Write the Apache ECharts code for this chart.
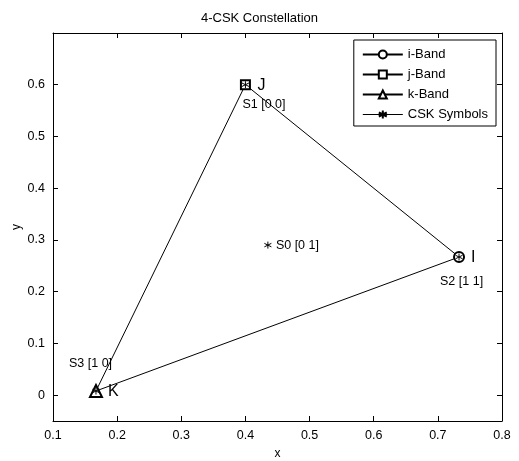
<!DOCTYPE html>
<html><head><meta charset="utf-8">
<script src="https://cdn.jsdelivr.net/npm/echarts@6/dist/echarts.min.js"></script>
<style>html,body{margin:0;padding:0;background:#fff}#c{width:519px;height:461px}</style>
</head><body><div id="c"></div>
<script>
const xTicks = [0.1, 0.2, 0.3, 0.4, 0.5, 0.6, 0.7, 0.8];
const yTicks = [0, 0.1, 0.2, 0.3, 0.4, 0.5, 0.6];
const bandNames = ['i-Band', 'j-Band', 'k-Band'];
const bandLetters = ['I', 'J', 'K'];
const bandX = [0.733, 0.4, 0.167];
const bandY = [0.267, 0.6, 0.008];
const cskNames = ['S0 [0 1]', 'S1 [0 0]', 'S2 [1 1]', 'S3 [1 0]'];
const cskX = [0.435, 0.4, 0.733, 0.167];
const cskY = [0.29, 0.6, 0.267, 0.008];
const triangleOrder = [1, 0, 2, 1];

const FONT = 'Liberation Sans, Arial, sans-serif';
const bandSymbols = ['emptyCircle', 'emptyRect', 'emptyTriangle'];
const bandSizes = [10, 9, 12];
const star = 'path://M0,-5L0,5M-4.33,-2.5L4.33,2.5M-4.33,2.5L4.33,-2.5';
const cskOffsets = [[8, 0], [-3, 20], [-19, 25], [-27, -27]];

const series = [];
series.push({
  type: 'line', name: 'triangle', silent: true, symbol: 'none',
  data: triangleOrder.map(i => [bandX[i], bandY[i]]),
  lineStyle: {color: '#000', width: 1}, z: 2
});
bandNames.forEach((n, i) => {
  series.push({
    type: 'line', name: n, symbol: bandSymbols[i], symbolSize: bandSizes[i],
    data: [[bandX[i], bandY[i]]],
    itemStyle: {color: '#000', borderColor: '#000', borderWidth: 2},
    lineStyle: {color: '#000', width: 2},
    label: {show: true, formatter: bandLetters[i], position: 'inside', align: 'left',
      verticalAlign: 'middle', offset: [12, 1], color: '#000', fontSize: 16, fontFamily: FONT},
    z: 3
  });
});
series.push({
  type: 'line', name: 'CSK Symbols', symbol: star, symbolSize: 7,
  data: cskX.map((x, i) => ({
    value: [x, cskY[i]],
    label: {show: true, formatter: cskNames[i], position: 'inside', align: 'left',
      verticalAlign: 'middle', offset: cskOffsets[i], color: '#000', fontSize: 12.5, fontFamily: FONT}
  })),
  itemStyle: {color: '#000', borderColor: '#000', borderWidth: 1},
  lineStyle: {width: 0, opacity: 0},
  z: 4
});

const grid = {left: 53, right: 17, top: 33, bottom: 40, containLabel: false, outerBoundsMode: 'none'};
const chart = echarts.init(document.getElementById('c'), null, {renderer: 'canvas'});
chart.setOption({
  animation: false,
  backgroundColor: '#fff',
  title: {text: '4-CSK Constellation', left: 'center', top: 7,
    textStyle: {fontSize: 13, fontWeight: 'normal', color: '#000', fontFamily: FONT}},
  grid: grid,
  legend: {
    orient: 'vertical', right: 23, top: 40,
    data: [
      {name: 'i-Band'}, {name: 'j-Band'}, {name: 'k-Band'},
      {name: 'CSK Symbols', lineStyle: {width: 1, opacity: 1, color: '#000'}}
    ],
    itemWidth: 40, itemHeight: 10, itemGap: 7,
    padding: [8, 8, 5, 8],
    borderColor: '#000', borderWidth: 1, backgroundColor: '#fff',
    textStyle: {fontSize: 13, color: '#000', fontFamily: FONT}
  },
  xAxis: [{
    type: 'value', min: 0.1, max: 0.8, name: 'x', nameLocation: 'middle', nameGap: 27,
    nameTextStyle: {fontSize: 12, color: '#000', fontFamily: FONT},
    axisLine: {show: true, onZero: false, lineStyle: {color: '#000', width: 1}},
    axisTick: {show: true, inside: true, length: 5, customValues: xTicks, lineStyle: {color: '#000'}},
    axisLabel: {customValues: xTicks, formatter: v => String(+v.toFixed(2)), fontSize: 12.5, color: '#000', margin: 8, fontFamily: FONT},
    splitLine: {show: false}
  }, {
    type: 'value', min: 0.1, max: 0.8, position: 'top',
    axisLine: {show: true, onZero: false, lineStyle: {color: '#000', width: 1}},
    axisTick: {show: true, inside: true, length: 5, customValues: xTicks, lineStyle: {color: '#000'}},
    axisLabel: {show: false}, splitLine: {show: false}
  }],
  yAxis: [{
    type: 'value', min: -0.05, max: 0.7, name: 'y', nameLocation: 'middle', nameGap: 30,
    nameMoveOverlap: false,
    nameTextStyle: {fontSize: 12, color: '#000', fontFamily: FONT},
    axisLine: {show: true, onZero: false, lineStyle: {color: '#000', width: 1}},
    axisTick: {show: true, inside: true, length: 5, customValues: yTicks, lineStyle: {color: '#000'}},
    axisLabel: {customValues: yTicks, formatter: v => String(+v.toFixed(2)), fontSize: 12.5, color: '#000', margin: 8, fontFamily: FONT},
    splitLine: {show: false}
  }, {
    type: 'value', min: -0.05, max: 0.7, position: 'right',
    axisLine: {show: true, onZero: false, lineStyle: {color: '#000', width: 1}},
    axisTick: {show: true, inside: true, length: 5, customValues: yTicks, lineStyle: {color: '#000'}},
    axisLabel: {show: false}, splitLine: {show: false}
  }],
  series: series
});
</script></body></html>
